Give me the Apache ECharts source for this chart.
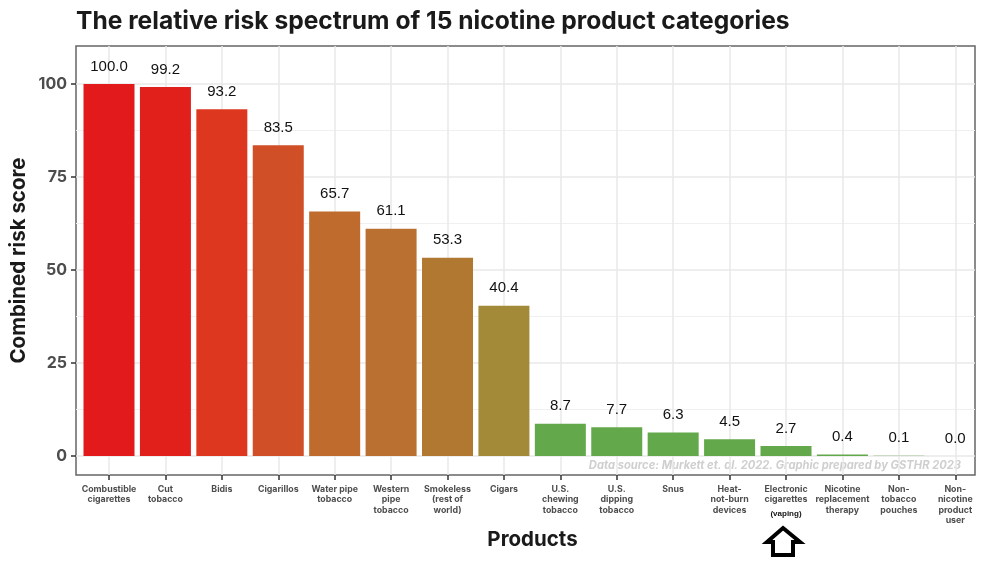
<!DOCTYPE html>
<html>
<head>
<meta charset="utf-8">
<style>html,body{margin:0;padding:0;background:#fff}#main{width:1000px;height:562px}</style>
<script src="https://cdn.jsdelivr.net/npm/echarts@6/dist/echarts.min.js"></script>
</head>
<body>
<div id="main"></div>
<script>
var categories = ['Combustible\ncigarettes','Cut\ntobacco','Bidis','Cigarillos','Water pipe\ntobacco','Western\npipe\ntobacco','Smokeless\n(rest of\nworld)','Cigars','U.S.\nchewing\ntobacco','U.S.\ndipping\ntobacco','Snus','Heat-\nnot-burn\ndevices','Electronic\ncigarettes\n{v|(vaping)}','Nicotine\nreplacement\ntherapy','Non-\ntobacco\npouches','Non-\nnicotine\nproduct\nuser'];
var scores = [100.0,99.2,93.2,83.5,65.7,61.1,53.3,40.4,8.7,7.7,6.3,4.5,2.7,0.4,0.1,0.0];
var barColors = ['#e31a1c','#e11f1b','#dd381f','#d04f26','#bf6b2e','#b97030','#b17832','#a28a38','#63a84a','#63a84a','#63a84a','#63a84a','#63a84a','#63a84a','#63a84a','#63a84a'];
var xPositions = [0,1,2,3,4,5,6,7,8,9,10,11,12,13,14,15];
var yTicks = [0,25,50,75,100];
var yMinorLines = [12.5,37.5,62.5,87.5];

var myChart = echarts.init(document.getElementById('main'));

var barData = [];
for (var i = 0; i < scores.length; i++) {
    barData.push({value: [xPositions[i], scores[i]], itemStyle: {color: barColors[i]}});
}

var option = {
    animation: false,
    backgroundColor: '#fff',
    title: {
        text: 'The relative risk spectrum of 15 nicotine product categories',
        left: 71, top: 4,
        textStyle: {fontFamily: 'Inter', fontWeight: 'bold', fontSize: 24.6, color: '#1a1a1a'}
    },
    grid: {left: 76, right: 25, top: 46, bottom: 87, show: true, borderColor: '#666', borderWidth: 1.5, backgroundColor: 'transparent', outerBoundsMode: 'none'},
    xAxis: {
        type: 'value', min: -0.585, max: 15.35,
        axisLine: {show: false, onZero: false},
        axisTick: {show: true, length: 5, lineStyle: {color: '#333', width: 1.5}, customValues: xPositions},
        splitLine: {show: true, lineStyle: {color: '#e8e8e8', width: 1.5}},
        minorSplitLine: {show: false},
        axisLabel: {
            customValues: xPositions, margin: 9, interval: 0, hideOverlap: false,
            fontFamily: 'Inter', fontWeight: 'bold', fontSize: 8.8, lineHeight: 10.5, color: '#4d4d4d', align: 'center', verticalAlign: 'top',
            formatter: function (v) { return categories[Math.round(v)]; },
            rich: {v: {fontFamily: 'Liberation Sans', fontWeight: 'bold', fontSize: 8, color: '#111', lineHeight: 15, padding: [3, 0, 0, 0]}}
        },
        name: 'Products', nameLocation: 'middle', nameGap: 54, nameMoveOverlap: false,
        nameTextStyle: {fontFamily: 'Inter', fontWeight: 'bold', fontSize: 20.5, color: '#1a1a1a', padding: [0, 0, 0, 14]}
    },
    yAxis: [{
        type: 'value', min: -5.1, max: 110.2,
        axisLine: {show: false, onZero: false},
        axisTick: {show: true, length: 5, lineStyle: {color: '#333', width: 1.5}, customValues: yTicks},
        splitLine: {show: true, lineStyle: {color: '#e8e8e8', width: 1.5}},
        axisLabel: {customValues: yTicks, margin: 9, fontFamily: 'Inter', fontWeight: 'bold', fontSize: 16, color: '#4d4d4d'},
        name: 'Combined risk score', nameLocation: 'middle', nameGap: 47, nameMoveOverlap: false,
        nameTextStyle: {fontFamily: 'Inter', fontWeight: 'bold', fontSize: 20.5, color: '#1a1a1a'}
    }, {
        type: 'value', min: -5.1, max: 110.2, position: 'left',
        axisLine: {show: false, onZero: false},
        axisTick: {show: false, customValues: yMinorLines},
        axisLabel: {show: false, customValues: yMinorLines},
        splitLine: {show: true, lineStyle: {color: '#f0f0f0', width: 1}}
    }],
    series: [{
        type: 'bar', yAxisIndex: 0, barWidth: 51,
        data: barData,
        label: {
            show: true, position: 'top', distance: 10,
            fontFamily: 'Liberation Sans', fontSize: 15, color: '#111',
            formatter: function (p) { return p.value[1].toFixed(1); }
        }
    }],
    graphic: [{
        type: 'text', right: 39, top: 460,
        style: {text: 'Data source: Murkett et. al. 2022. Graphic prepared by GSTHR 2023', fontFamily: 'Inter', fontWeight: 'bold', fontStyle: 'italic', fontSize: 11.2, fill: '#cfcfcf'}
    }, {
        type: 'polygon',
        shape: {points: [[783,528],[800,542],[793,542],[793,555],[773,555],[773,542],[767,542]]},
        style: {fill: '#fff', stroke: '#000', lineWidth: 4}
    }]
};
myChart.setOption(option, true);
</script>
</body>
</html>
